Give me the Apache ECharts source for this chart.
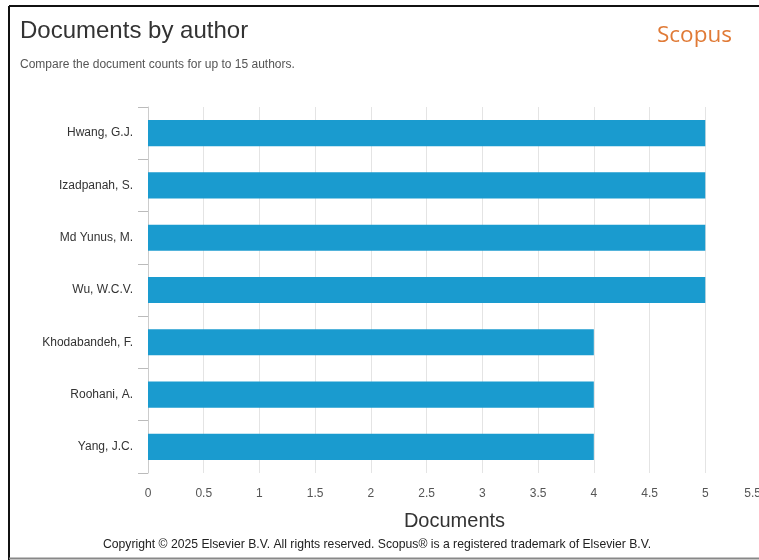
<!DOCTYPE html>
<html>
<head>
<meta charset="utf-8">
<script src="https://cdn.jsdelivr.net/npm/echarts@6/dist/echarts.min.js"></script>
<style>
html,body{margin:0;padding:0;background:#fff;}
#chart{width:759px;height:560px;}
</style>
</head>
<body>
<div id="chart"></div>
<script>
var authors = ["Hwang, G.J.", "Izadpanah, S.", "Md Yunus, M.", "Wu, W.C.V.", "Khodabandeh, F.", "Roohani, A.", "Yang, J.C."];
var documents = [5, 5, 5, 5, 4, 4, 4];
var xTicks = [0, 0.5, 1, 1.5, 2, 2.5, 3, 3.5, 4, 4.5, 5, 5.5];

var chart = echarts.init(document.getElementById('chart'));
var font = '"Liberation Sans", Arial, sans-serif';
chart.setOption({
  animation: false,
  backgroundColor: '#fff',
  title: [
    {text: 'Documents by author', left: 15, top: 14, textStyle: {fontFamily: font, fontSize: 24, fontWeight: 'normal', color: '#333'}},
    {text: 'Compare the document counts for up to 15 authors.', left: 15, top: 54, textStyle: {fontFamily: font, fontSize: 12, fontWeight: 'normal', color: '#555'}},
    {text: 'Scopus', left: 652, top: 19, textStyle: {fontFamily: '"Open Sans", sans-serif', fontSize: 22.5, fontWeight: 'normal', color: '#e07a36'}},
    {text: 'Copyright © 2025 Elsevier B.V. All rights reserved. Scopus® is a registered trademark of Elsevier B.V.', left: 98, top: 534, textStyle: {fontFamily: font, fontSize: 12.2, fontWeight: 'normal', color: '#222'}}
  ],
  graphic: [
    {type: 'line', shape: {x1: 9, y1: 6, x2: 9, y2: 560}, style: {stroke: '#111', lineWidth: 2}},
    {type: 'line', shape: {x1: 9, y1: 6, x2: 759, y2: 6}, style: {stroke: '#111', lineWidth: 2}},
    {type: 'line', shape: {x1: 9, y1: 558.5, x2: 759, y2: 558.5}, style: {stroke: '#888', lineWidth: 2}}
  ],
  grid: {left: 148, top: 107, width: 613, height: 366, containLabel: false, outerBoundsMode: 'none'},
  xAxis: {
    type: 'value', min: 0, max: 5.5, interval: 0.5,
    name: 'Documents', nameLocation: 'middle', nameGap: 38,
    nameTextStyle: {fontFamily: font, fontSize: 20, color: '#333'},
    axisLine: {show: false}, axisTick: {show: false},
    axisLabel: {fontFamily: font, fontSize: 12, color: '#555', margin: 15, alignMaxLabel: 'right',
      formatter: function(v){ return xTicks.indexOf(v) >= 0 ? String(v) : ''; }},
    splitLine: {show: true, lineStyle: {color: '#e4e4e4', width: 1}}
  },
  yAxis: {
    type: 'category', data: authors, inverse: true,
    axisLine: {show: true, lineStyle: {color: '#ccc'}},
    axisTick: {show: true, length: 10, lineStyle: {color: '#bbb'}},
    axisLabel: {fontFamily: font, fontSize: 12, color: '#333', margin: 15}
  },
  series: [{
    type: 'bar', data: documents, barWidth: '50%',
    itemStyle: {color: '#1a9bcf'}
  }]
});
</script>
</body>
</html>
